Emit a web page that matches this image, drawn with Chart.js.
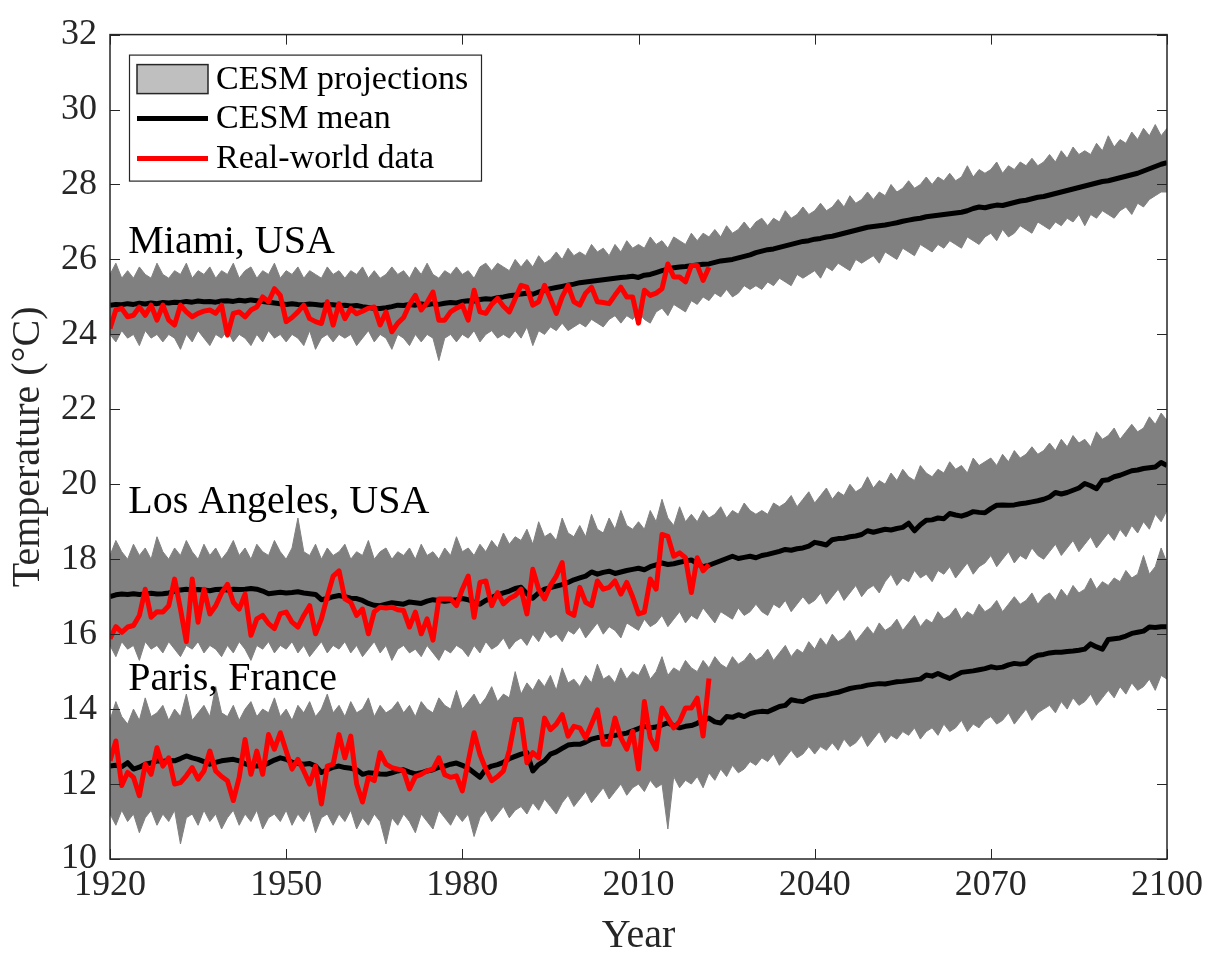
<!DOCTYPE html>
<html>
<head>
<meta charset="utf-8">
<title>CESM temperature projections</title>
<script src="https://cdn.jsdelivr.net/npm/chart.js@4.4.0/dist/chart.umd.min.js"></script>
<style>
  html, body { margin: 0; padding: 0; background: #fff; }
  #wrap { width: 1212px; height: 956px; position: relative; }
</style>
</head>
<body>
<div id="wrap"><canvas id="temps"></canvas></div>
<script>
// years 1920..2100
const years = [];
for (let y = 1920; y <= 2100; y++) years.push(y);
const obsYears = years.filter(y => y <= 2022);

const xTicks = [1920, 1950, 1980, 2010, 2040, 2070, 2100];
const yTicks = [10, 12, 14, 16, 18, 20, 22, 24, 26, 28, 30, 32];
const cityNames = ['Miami, USA', 'Los Angeles, USA', 'Paris, France'];
const legendLabels = ['CESM projections', 'CESM mean', 'Real-world data'];

// ---- Miami ----
const miamiHi = [
  25.6, 25.9, 25.5, 25.7, 25.5, 25.8, 25.6, 25.5, 25.9, 25.6,
  25.5, 25.7, 25.6, 25.9, 25.5, 25.7, 25.6, 25.8, 25.5, 25.7,
  25.6, 25.9, 25.5, 25.7, 25.8, 25.5, 25.7, 25.6, 25.9, 25.5,
  25.7, 25.6, 25.8, 25.5, 25.7, 25.6, 25.5, 25.8, 25.6, 25.7,
  25.5, 25.7, 25.6, 25.8, 25.5, 25.7, 25.5, 25.6, 25.8, 25.6,
  25.7, 25.5, 25.8, 25.6, 25.9, 25.6, 25.5, 25.7, 25.6, 25.8,
  25.6, 25.7, 25.5, 25.8, 25.9, 25.7, 25.9, 25.8, 25.7, 26.0,
  25.8, 26.0, 25.8, 26.1, 25.9, 26.0, 26.2, 26.0, 26.3, 26.1,
  26.2, 26.1, 26.4, 26.2, 26.3, 26.1, 26.4, 26.2, 26.5, 26.3,
  26.4, 26.3, 26.6, 26.4, 26.5, 26.3, 26.6, 26.5, 26.4, 26.7,
  26.5, 26.7, 26.6, 26.8, 26.6, 26.9, 26.7, 26.8, 27.0, 26.8,
  27.0, 27.1, 26.9, 27.1, 27.0, 27.3, 27.1, 27.2, 27.4, 27.2,
  27.3, 27.5, 27.3, 27.4, 27.6, 27.4, 27.7, 27.5, 27.6, 27.8,
  27.6, 27.8, 27.7, 28.0, 27.8, 27.9, 28.1, 27.9, 28.0, 28.2,
  28.0, 28.2, 28.1, 28.3, 28.1, 28.2, 28.5, 28.2, 28.4, 28.3,
  28.4, 28.6, 28.3, 28.5, 28.4, 28.6, 28.5, 28.7, 28.5, 28.6,
  28.8, 28.6, 28.9, 28.7, 29.0, 28.8, 28.9, 28.8, 29.1, 28.9,
  29.3, 29.0, 29.2, 29.1, 29.4, 29.2, 29.5, 29.3, 29.6, 29.3,
  29.5
];
const miamiLo = [
  24.0, 23.8, 24.1, 23.9, 24.0, 23.7, 24.1, 23.9, 24.0, 23.8,
  24.0, 23.9, 23.6, 24.0, 23.8, 24.1, 23.9, 23.7, 24.0, 23.9,
  24.1, 23.8, 24.0, 23.9, 23.7, 24.0, 23.8, 24.1, 23.9, 24.0,
  23.8, 24.0, 23.9, 23.7, 24.1, 23.6, 23.9, 24.0, 23.8, 24.0,
  23.9, 24.0, 23.7, 23.9, 24.1, 23.8, 24.0, 23.9, 23.6, 24.0,
  23.9, 23.7, 24.0, 23.8, 24.0, 23.9, 23.3, 23.9, 24.0, 23.8,
  24.0, 23.9, 24.1, 23.8, 24.0, 24.1, 23.9, 24.0, 23.9, 24.1,
  23.9, 24.2, 23.7, 24.1, 24.0, 24.2, 24.1, 24.3, 24.1, 24.2,
  24.3, 24.2, 24.4, 24.3, 24.2, 24.4, 24.5, 24.3, 24.5, 24.4,
  24.6, 24.4, 24.3, 24.6, 24.7, 24.5, 24.8, 24.7, 24.6, 24.9,
  24.8, 25.0, 24.9, 25.1, 25.0, 25.2, 25.0, 25.1, 25.3, 25.2,
  25.3, 25.2, 25.4, 25.3, 25.5, 25.4, 25.3, 25.6, 25.5, 25.6,
  25.7, 25.5, 25.8, 25.7, 25.9, 25.8, 25.7, 26.0, 25.9, 26.0,
  26.1, 25.9, 26.2, 26.1, 26.0, 26.3, 26.2, 26.1, 26.4, 26.3,
  26.2, 26.4, 26.3, 26.5, 26.4, 26.3, 26.6, 26.5, 26.4, 26.6,
  26.7, 26.5, 26.8, 26.6, 26.7, 26.9, 26.8, 26.7, 27.0, 26.9,
  26.8, 27.0, 26.9, 27.1, 27.0, 27.2, 26.9, 27.2, 27.1, 27.3,
  27.2, 27.1, 27.3, 27.4, 27.2, 27.5, 27.4, 27.6, 27.7, 27.8,
  27.8
];
const miamiMean = [
  24.78, 24.80, 24.79, 24.82, 24.80, 24.83, 24.81, 24.84, 24.82, 24.85,
  24.84, 24.86, 24.85, 24.88, 24.86, 24.89, 24.87, 24.88, 24.86, 24.89,
  24.90, 24.88, 24.91, 24.89, 24.92, 24.90, 24.88, 24.86, 24.84, 24.82,
  24.80, 24.82, 24.80, 24.79, 24.81, 24.80, 24.78, 24.80, 24.79, 24.77,
  24.78, 24.76, 24.77, 24.74, 24.72, 24.70, 24.69, 24.71, 24.74, 24.78,
  24.77, 24.80, 24.78, 24.81, 24.79, 24.82, 24.80, 24.83, 24.85, 24.84,
  24.88, 24.90, 24.89, 24.93, 24.95, 24.94, 24.98, 25.00, 25.03, 25.05,
  25.08, 25.10, 25.07, 25.13, 25.18, 25.22, 25.25, 25.28, 25.31, 25.34,
  25.38, 25.40, 25.42, 25.44, 25.46, 25.48, 25.50, 25.52, 25.53, 25.55,
  25.52, 25.58, 25.60, 25.65, 25.70, 25.74, 25.78, 25.80, 25.81, 25.83,
  25.85, 25.87, 25.88, 25.92, 25.96, 25.98, 26.00, 26.04, 26.08, 26.12,
  26.18, 26.22, 26.26, 26.28, 26.32, 26.36, 26.40, 26.44, 26.48, 26.50,
  26.54, 26.56, 26.60, 26.62, 26.66, 26.70, 26.74, 26.78, 26.82, 26.86,
  26.88, 26.90, 26.92, 26.95, 26.98, 27.02, 27.05, 27.08, 27.10, 27.14,
  27.16, 27.18, 27.20, 27.22, 27.24, 27.26, 27.30, 27.36, 27.40, 27.38,
  27.42, 27.45, 27.44, 27.48, 27.52, 27.56, 27.58, 27.62, 27.66, 27.68,
  27.72, 27.76, 27.80, 27.84, 27.88, 27.92, 27.96, 28.00, 28.04, 28.08,
  28.10, 28.14, 28.18, 28.22, 28.26, 28.30, 28.36, 28.42, 28.48, 28.54,
  28.58
];
const miamiObs = [
  24.16, 24.65, 24.69, 24.47, 24.51, 24.73, 24.51, 24.78, 24.38, 24.78,
  24.38, 24.25, 24.78, 24.60, 24.47, 24.56, 24.62, 24.65, 24.56, 24.78,
  23.98, 24.56, 24.60, 24.47, 24.65, 24.73, 25.00, 24.87, 25.22, 25.04,
  24.34, 24.45, 24.60, 24.78, 24.42, 24.34, 24.29, 24.87, 24.25, 24.82,
  24.42, 24.69, 24.55, 24.62, 24.70, 24.73, 24.25, 24.60, 24.07, 24.30,
  24.45, 24.80, 25.04, 24.65, 24.85, 25.13, 24.38, 24.38, 24.60, 24.70,
  24.78, 24.38, 25.18, 24.60, 24.56, 24.80, 24.96, 24.75, 24.60, 24.95,
  25.31, 25.26, 24.78, 24.87, 25.31, 24.95, 24.56, 25.00, 25.31, 24.87,
  24.78, 25.10, 25.26, 24.87, 24.85, 24.82, 25.05, 25.26, 25.00, 25.00,
  24.30, 25.18, 25.04, 25.10, 25.22, 25.88, 25.53, 25.53, 25.40, 25.84,
  25.84, 25.44, 25.79
];

// ---- Los Angeles ----
const laHi = [
  18.1, 18.5, 18.2, 18.0, 18.4, 18.1, 18.3, 18.0, 18.6, 18.2,
  18.0, 18.3, 18.1, 18.5, 18.2, 18.0, 18.4, 18.1, 18.3, 18.0,
  18.2, 18.5, 18.1, 18.3, 18.0, 18.4, 18.2, 18.1, 18.5, 18.2,
  18.0, 18.3, 19.1, 18.2, 18.1, 18.4, 18.0, 18.3, 18.1, 18.2,
  18.4, 18.0, 18.2, 18.1, 18.5, 18.0, 18.2, 18.3, 18.0, 18.2,
  18.1, 18.3, 18.0, 18.4, 18.1, 18.2, 18.0, 18.3, 18.1, 18.6,
  18.2, 18.3, 18.1, 18.4, 18.2, 18.5, 18.3, 18.7, 18.4, 18.6,
  18.5, 18.8, 18.4, 19.0, 18.6, 18.7, 18.5, 19.1, 18.7, 18.6,
  18.9, 18.6, 19.2, 18.8, 18.7, 19.1, 18.8, 19.3, 18.9, 18.8,
  19.0, 18.8, 19.3, 19.0, 19.6, 19.1, 18.9, 19.4, 19.0, 19.2,
  19.0, 19.3, 19.1, 19.2, 19.4, 19.1, 19.3, 19.2, 19.5, 19.3,
  19.2, 19.3, 19.2, 19.5, 19.4, 19.5, 19.7, 19.4, 19.6, 19.8,
  19.5, 19.7, 19.9, 19.6, 19.8, 19.7, 20.0, 19.8, 19.9, 20.2,
  19.9, 20.1, 20.0, 20.3, 20.1, 20.4, 20.2, 20.1, 20.5, 20.3,
  20.2, 20.4, 20.3, 20.6, 20.4, 20.5, 20.3, 20.7, 20.5, 20.6,
  20.7, 20.5, 20.8, 20.6, 20.9, 20.7, 20.8, 21.0, 20.8, 20.9,
  21.1, 20.9, 21.2, 21.0, 21.3, 21.1, 21.2, 21.0, 21.4, 21.2,
  21.3, 21.5, 21.2, 21.4, 21.6, 21.4, 21.5, 21.8, 21.6, 21.9,
  21.7
];
const laLo = [
  15.7, 15.4, 15.8, 15.6, 15.7, 15.3, 15.8, 15.6, 15.7, 15.5,
  15.8, 15.6, 15.4, 15.7, 15.6, 15.8, 15.5, 15.7, 15.6, 15.4,
  15.7, 15.5, 15.8, 15.6, 15.3, 15.7, 15.6, 15.8, 15.5, 15.7,
  15.6, 15.8, 15.5, 15.7, 15.4, 15.6, 15.8, 15.5, 15.7, 15.6,
  15.8, 15.5, 15.7, 15.4, 15.6, 15.8, 15.5, 15.7, 15.3, 15.6,
  15.7, 15.5, 15.6, 15.4, 15.7, 15.5, 15.3, 15.6, 15.5, 15.7,
  15.6, 15.4, 15.7, 15.5, 15.8, 15.6, 15.7, 15.9, 15.6, 15.8,
  15.9, 15.7, 16.0, 15.8, 16.1, 15.9, 16.0, 15.8, 16.1, 16.0,
  16.2, 15.9, 16.1, 16.3, 16.0, 16.2, 16.1, 15.9, 16.3, 16.2,
  16.1, 16.4, 16.2, 16.3, 16.5, 16.2, 16.4, 16.6, 16.3, 16.5,
  16.4, 16.7, 16.5, 16.3, 16.6, 16.5, 16.4, 16.7, 16.5, 16.6,
  16.8, 16.6, 16.5, 16.8, 16.7, 16.9, 16.6, 16.8, 17.0, 16.8,
  16.9, 17.1, 16.8, 17.0, 17.2, 16.9, 17.1, 17.3, 17.0, 17.2,
  17.3, 17.1, 17.4, 17.6, 17.3, 17.5, 17.4, 17.7, 17.5, 17.6,
  17.4, 17.7, 17.6, 17.8, 17.5, 17.7, 17.9, 17.6, 17.8, 17.9,
  18.1, 17.8, 18.0, 18.2, 17.9, 18.1, 18.0, 18.3, 18.1, 18.0,
  18.2, 18.4, 18.1, 18.3, 18.5, 18.2, 18.4, 18.6, 18.3, 18.5,
  18.7, 18.5, 18.8, 18.6, 18.9, 18.7, 19.0, 18.8, 19.2, 19.0,
  19.3
];
const laMean = [
  17.00, 17.05, 17.07, 17.06, 17.08, 17.06, 17.07, 17.09, 17.07, 17.08,
  17.10, 17.14, 17.18, 17.20, 17.17, 17.19, 17.18, 17.16, 17.19, 17.20,
  17.18, 17.20, 17.19, 17.20, 17.22, 17.20, 17.15, 17.08, 17.10, 17.12,
  17.10, 17.11, 17.13, 17.10, 17.08, 17.06, 16.92, 16.95, 17.00, 17.03,
  17.00, 16.96, 16.95, 16.90, 16.82, 16.77, 16.76, 16.80, 16.84, 16.82,
  16.80, 16.86, 16.84, 16.82, 16.88, 16.92, 16.90, 16.88, 16.90, 16.92,
  16.95, 16.92, 16.85, 16.80, 16.90, 16.98, 17.05, 17.10, 17.15, 17.22,
  17.25, 17.08, 16.96, 17.10, 17.20, 17.24, 17.28, 17.32, 17.38, 17.45,
  17.50, 17.55, 17.66, 17.60, 17.65, 17.68, 17.62, 17.66, 17.70, 17.73,
  17.76, 17.72, 17.80, 17.85, 17.90, 17.86, 17.88, 17.92, 17.95, 17.98,
  17.88, 17.80, 17.84, 17.90, 17.96, 18.02, 18.08, 18.02, 18.05, 18.08,
  18.04, 18.10, 18.13, 18.17, 18.21, 18.26, 18.24, 18.28, 18.30, 18.35,
  18.45, 18.42, 18.38, 18.52, 18.55, 18.56, 18.60, 18.62, 18.66, 18.76,
  18.72, 18.76, 18.80, 18.78, 18.82, 18.85, 18.96, 18.76, 18.92, 19.04,
  19.05, 19.10, 19.08, 19.22, 19.18, 19.15, 19.20, 19.27, 19.25, 19.24,
  19.35, 19.44, 19.45, 19.44, 19.45, 19.48, 19.50, 19.53, 19.56, 19.60,
  19.66, 19.78, 19.74, 19.78, 19.84, 19.90, 20.02, 19.96, 19.88, 20.10,
  20.12, 20.20, 20.24, 20.30, 20.36, 20.38, 20.42, 20.44, 20.46, 20.58,
  20.50
];
const laObs = [
  15.88, 16.20, 16.05, 16.19, 16.23, 16.50, 17.20, 16.45, 16.60, 16.59,
  16.76, 17.47, 16.67, 15.80, 17.47, 16.32, 17.20, 16.54, 16.76, 17.10,
  17.33, 16.85, 16.67, 17.07, 15.97, 16.41, 16.50, 16.28, 16.15, 16.55,
  16.59, 16.32, 16.19, 16.50, 16.76, 16.01, 16.41, 17.00, 17.55, 17.69,
  16.94, 16.85, 16.50, 16.67, 16.01, 16.60, 16.72, 16.70, 16.72, 16.65,
  16.63, 16.19, 16.59, 16.01, 16.41, 15.84, 16.94, 16.94, 16.94, 16.76,
  17.20, 17.55, 16.45, 17.38, 17.42, 16.76, 17.11, 16.81, 16.95, 17.03,
  17.20, 16.54, 17.73, 17.20, 16.94, 17.30, 17.55, 17.91, 16.59, 16.50,
  17.25, 16.85, 16.76, 17.42, 17.20, 17.25, 17.42, 17.07, 17.38, 17.00,
  16.54, 16.59, 17.47, 17.20, 18.66, 18.61, 18.08, 18.17, 18.04, 17.11,
  18.04, 17.69, 17.86
];

// ---- Paris ----
const parisHi = [
  13.7, 14.2, 13.8, 13.6, 14.0, 13.7, 14.3, 13.8, 13.9, 14.1,
  13.7, 14.0, 13.8, 14.4, 13.7, 13.9, 14.1, 13.8, 14.6, 13.9,
  13.8, 14.1, 13.7, 14.0, 14.2, 13.8, 14.0, 13.9, 14.3, 13.8,
  14.0, 13.7, 14.1, 13.9, 14.2, 13.8, 14.0, 14.4, 13.9, 14.1,
  13.8, 14.2, 13.9, 14.0, 14.3, 13.8, 14.1, 13.9, 14.0, 14.2,
  13.9, 14.1, 13.8, 14.2, 14.0, 13.9, 14.3, 14.1, 14.0, 14.5,
  14.0, 14.2, 14.4, 14.1, 14.3, 14.6, 14.2, 14.4, 14.3, 15.0,
  14.4, 14.7, 14.5, 14.8, 14.6, 14.9, 14.5, 15.1, 14.7, 14.8,
  14.6, 14.9, 14.7, 15.2, 14.8, 14.9, 14.7, 15.1, 14.8, 15.0,
  14.9, 15.2, 14.8, 15.0, 15.4, 14.9, 15.1, 15.0, 15.3, 15.1,
  15.0, 15.3, 15.1, 15.4, 15.2, 15.1, 15.4, 15.2, 15.3, 15.5,
  15.3, 15.4, 15.6, 15.3, 15.5, 15.7, 15.4, 15.6, 15.5, 15.8,
  15.6, 15.9, 15.7, 16.0, 15.8, 15.9, 16.1, 15.8, 16.0, 16.2,
  16.0, 16.3, 16.1, 16.2, 16.4, 16.1, 16.3, 16.5, 16.2, 16.4,
  16.3, 16.6, 16.4, 16.5, 16.7, 16.4, 16.6, 16.5, 16.8, 16.6,
  16.7, 16.9, 16.6, 16.8, 17.0, 16.8, 16.9, 17.1, 16.8, 17.0,
  17.1, 16.9, 17.2, 17.0, 17.3, 17.1, 17.2, 17.5, 17.2, 17.4,
  17.3, 17.5, 17.4, 17.7, 17.5, 17.6, 18.1, 17.6, 17.8, 18.3,
  17.9
];
const parisLo = [
  11.2, 10.9, 11.3, 11.0, 11.2, 10.7, 11.1, 11.3, 10.9, 11.2,
  11.0, 11.3, 10.4, 11.1, 11.2, 10.9, 11.3, 11.0, 11.2, 10.8,
  11.1, 11.3, 10.9, 11.2, 11.0, 11.3, 10.8, 11.1, 11.2, 11.0,
  11.3, 10.9, 11.2, 11.0, 11.3, 10.7, 11.1, 11.2, 10.9, 11.2,
  11.0, 11.3, 10.8, 11.1, 10.9, 11.2, 11.0, 10.4, 11.1, 10.9,
  11.2, 11.0, 10.7, 11.2, 11.0, 10.8, 11.3, 11.1, 10.9, 11.2,
  11.0, 11.2, 10.6, 11.1, 11.3, 11.0, 11.2, 11.4, 11.1, 11.3,
  11.4, 11.2, 11.5, 11.3, 11.6, 11.4, 11.2, 11.5, 11.7, 11.4,
  11.6, 11.8, 11.5, 11.7, 11.9, 11.6, 11.8, 12.0, 11.7, 11.9,
  12.0, 11.8, 12.1, 11.9, 12.0, 10.8, 12.2, 11.9, 12.1, 12.0,
  12.2, 11.9, 12.3, 12.1, 12.4, 12.2, 12.5, 12.3, 12.4, 12.6,
  12.5, 12.7, 12.6, 12.8, 12.5, 12.7, 12.9, 12.7, 12.8, 13.0,
  12.8, 13.0, 12.9, 13.1, 12.9, 13.2, 13.0, 13.1, 13.3, 13.0,
  13.2, 13.4, 13.1, 13.3, 13.2, 13.4, 13.3, 13.5, 13.2, 13.4,
  13.5, 13.3, 13.6, 13.4, 13.5, 13.7, 13.4, 13.6, 13.5, 13.7,
  13.8, 13.6, 13.7, 13.9, 13.6, 13.8, 14.0, 13.7, 13.9, 14.0,
  14.1, 13.9, 14.2, 14.0, 14.3, 14.1, 14.2, 14.4, 14.1, 14.3,
  14.5, 14.3, 14.6, 14.4, 14.7, 14.5, 14.6, 14.8, 14.5, 14.9,
  14.8
];
const parisMean = [
  12.48, 12.50, 12.46, 12.57, 12.40, 12.45, 12.53, 12.56, 12.62, 12.60,
  12.63, 12.62, 12.68, 12.75, 12.70, 12.66, 12.60, 12.53, 12.58, 12.62,
  12.64, 12.66, 12.62, 12.54, 12.50, 12.48, 12.50, 12.56, 12.64, 12.70,
  12.66, 12.58, 12.55, 12.53, 12.55, 12.48, 12.31, 12.38, 12.45, 12.48,
  12.44, 12.42, 12.38, 12.26, 12.30, 12.29, 12.27, 12.26, 12.30, 12.35,
  12.38, 12.32, 12.27, 12.30, 12.35, 12.38, 12.45, 12.48, 12.53, 12.56,
  12.50, 12.42, 12.30, 12.18, 12.40, 12.48, 12.52, 12.58, 12.68, 12.74,
  12.80, 12.84, 12.35, 12.52, 12.62, 12.80, 12.86, 12.95, 13.04, 13.06,
  13.06, 13.12, 13.20, 13.24, 13.25, 13.28, 13.30, 13.33, 13.36, 13.42,
  13.48, 13.54, 13.50, 13.52, 13.58, 13.63, 13.56, 13.50, 13.54, 13.56,
  13.62, 13.70, 13.76, 13.66, 13.63, 13.80, 13.78, 13.85, 13.80, 13.88,
  13.92, 13.94, 13.93, 14.00, 14.07, 14.10, 14.25, 14.22, 14.20, 14.28,
  14.33, 14.36, 14.38, 14.42, 14.45, 14.50, 14.55, 14.58, 14.60, 14.64,
  14.66, 14.68, 14.67, 14.70, 14.73, 14.74, 14.76, 14.78, 14.80, 14.91,
  14.88, 14.95, 14.88, 14.82, 14.90, 14.98, 15.00, 15.02, 15.05, 15.08,
  15.13, 15.10, 15.12, 15.18, 15.22, 15.20, 15.22, 15.36, 15.44, 15.46,
  15.50, 15.52, 15.52, 15.54, 15.55, 15.57, 15.60, 15.74, 15.66, 15.60,
  15.86, 15.88, 15.90, 15.95, 16.02, 16.05, 16.08, 16.19, 16.18, 16.20,
  16.20
];
const parisObs = [
  12.62, 13.15, 11.96, 12.31, 12.18, 11.69, 12.53, 12.26, 12.97, 12.48,
  12.70, 12.00, 12.04, 12.22, 12.44, 12.13, 12.35, 12.88, 12.35, 12.20,
  12.09, 11.56, 12.18, 13.19, 12.26, 12.88, 12.26, 13.32, 12.93, 13.37,
  12.88, 12.40, 12.66, 12.35, 12.00, 12.48, 11.47, 12.48, 12.53, 13.32,
  12.70, 13.28, 12.00, 11.52, 12.18, 12.09, 12.84, 12.53, 12.44, 12.40,
  12.35, 11.87, 12.20, 12.26, 12.35, 12.40, 12.70, 12.25, 12.18, 12.22,
  11.82, 12.60, 13.37, 12.79, 12.40, 12.09, 12.20, 12.35, 12.90, 13.72,
  13.72, 12.57, 12.84, 12.70, 13.76, 13.45, 13.60, 13.85, 13.28, 13.54,
  13.50, 13.23, 13.60, 13.98, 13.06, 13.06, 13.76, 13.23, 12.93, 13.41,
  12.40, 14.20, 13.23, 12.93, 14.03, 13.76, 13.50, 13.67, 14.03, 14.03,
  14.29, 13.28, 14.82
];

const GRAY = '#808080';
const AXIS = '#262626';
const FONT = "'Liberation Serif', 'Times New Roman', serif";

const pts = (xs, vals) => vals.map((v, i) => ({ x: xs[i], y: v }));

const cities = [
  { hi: miamiHi, lo: miamiLo, mean: miamiMean, obs: miamiObs },
  { hi: laHi, lo: laLo, mean: laMean, obs: laObs },
  { hi: parisHi, lo: parisLo, mean: parisMean, obs: parisObs },
];

const datasets = [];
cities.forEach(c => {
  // ensemble spread: upper edge filled down to the lower edge
  datasets.push({ data: pts(years, c.hi), borderColor: GRAY, borderWidth: 1, backgroundColor: GRAY,
    fill: '+1', pointRadius: 0, order: 3 });
  datasets.push({ data: pts(years, c.lo), borderColor: GRAY, borderWidth: 1, fill: false,
    pointRadius: 0, order: 3 });
});
cities.forEach(c => {
  datasets.push({ data: pts(years, c.mean), borderColor: '#000', borderWidth: 5, fill: false,
    pointRadius: 0, borderJoinStyle: 'round', order: 2 });
});
cities.forEach(c => {
  datasets.push({ data: pts(obsYears, c.obs), borderColor: '#ff0000', borderWidth: 5, fill: false,
    pointRadius: 0, borderJoinStyle: 'round', order: 1 });
});

// box, inward ticks, city names and legend
const decorations = {
  id: 'decorations',
  afterDraw(chart) {
    const { ctx, chartArea: a, scales: { x, y } } = chart;
    ctx.save();
    ctx.strokeStyle = AXIS;
    ctx.lineWidth = 1.5;
    ctx.strokeRect(a.left, a.top, a.right - a.left, a.bottom - a.top);
    const tl = 10;
    ctx.lineWidth = 1;
    ctx.beginPath();
    xTicks.forEach(t => {
      const px = Math.round(x.getPixelForValue(t)) + 0.5;
      ctx.moveTo(px, a.bottom); ctx.lineTo(px, a.bottom - tl);
      ctx.moveTo(px, a.top); ctx.lineTo(px, a.top + tl);
    });
    yTicks.forEach(t => {
      const py = Math.round(y.getPixelForValue(t)) + 0.5;
      ctx.moveTo(a.left, py); ctx.lineTo(a.left + tl, py);
      ctx.moveTo(a.right, py); ctx.lineTo(a.right - tl, py);
    });
    ctx.stroke();

    // city names
    ctx.fillStyle = '#000';
    ctx.font = '40px ' + FONT;
    ctx.textBaseline = 'alphabetic';
    ctx.textAlign = 'left';
    const nameAt = [26.18, 19.23, 14.52];
    cityNames.forEach((name, i) => {
      ctx.fillText(name, x.getPixelForValue(1923.1), y.getPixelForValue(nameAt[i]));
    });

    // legend
    const lx = a.left + 19, ly = a.top + 20;
    ctx.fillStyle = '#fff';
    ctx.fillRect(lx, ly, 352, 126);
    ctx.strokeStyle = AXIS;
    ctx.lineWidth = 1.2;
    ctx.strokeRect(lx + 0.5, ly + 0.5, 352, 126);
    ctx.fillStyle = '#bfbfbf';
    ctx.fillRect(lx + 8, ly + 10, 71, 29);
    ctx.lineWidth = 1.5;
    ctx.strokeRect(lx + 8, ly + 10, 71, 29);
    ctx.lineWidth = 5;
    ctx.strokeStyle = '#000';
    ctx.beginPath(); ctx.moveTo(lx + 8, ly + 64); ctx.lineTo(lx + 79, ly + 64); ctx.stroke();
    ctx.strokeStyle = '#ff0000';
    ctx.beginPath(); ctx.moveTo(lx + 8, ly + 104); ctx.lineTo(lx + 79, ly + 104); ctx.stroke();
    ctx.fillStyle = '#000';
    ctx.font = '34px ' + FONT;
    legendLabels.forEach((t, i) => ctx.fillText(t, lx + 87, ly + 34 + i * 39.5));
    ctx.restore();
  }
};

new Chart(document.getElementById('temps'), {
  type: 'line',
  data: { datasets: datasets },
  plugins: [decorations],
  options: {
    responsive: true,
    maintainAspectRatio: false,
    animation: false,
    layout: { padding: { left: 0, top: 27, right: 45, bottom: 0 } },
    plugins: { legend: { display: false }, tooltip: { enabled: false } },
    scales: {
      x: {
        type: 'linear', min: 1920, max: 2100,
        afterBuildTicks: s => { s.ticks = xTicks.map(v => ({ value: v })); },
        afterFit: s => { s.height = 97; },
        ticks: { color: AXIS, font: { family: FONT, size: 36 }, padding: 5, maxRotation: 0,
          callback: v => String(v) },
        grid: { display: false, drawTicks: false },
        border: { display: false },
        title: { display: true, text: 'Year', color: AXIS, font: { family: FONT, size: 40, lineHeight: 1.0 },
          padding: { top: 1, bottom: 0 } }
      },
      y: {
        min: 10, max: 32,
        afterBuildTicks: s => { s.ticks = yTicks.map(v => ({ value: v })); },
        afterFit: s => { s.width = 110; },
        ticks: { color: AXIS, font: { family: FONT, size: 36 }, padding: 13, callback: v => String(v) },
        grid: { display: false, drawTicks: false },
        border: { display: false },
        title: { display: true, text: 'Temperature (°C)', color: AXIS, font: { family: FONT, size: 40, lineHeight: 1.2 },
          padding: { top: 4, bottom: 0 } }
      }
    }
  }
});
</script>
</body>
</html>
